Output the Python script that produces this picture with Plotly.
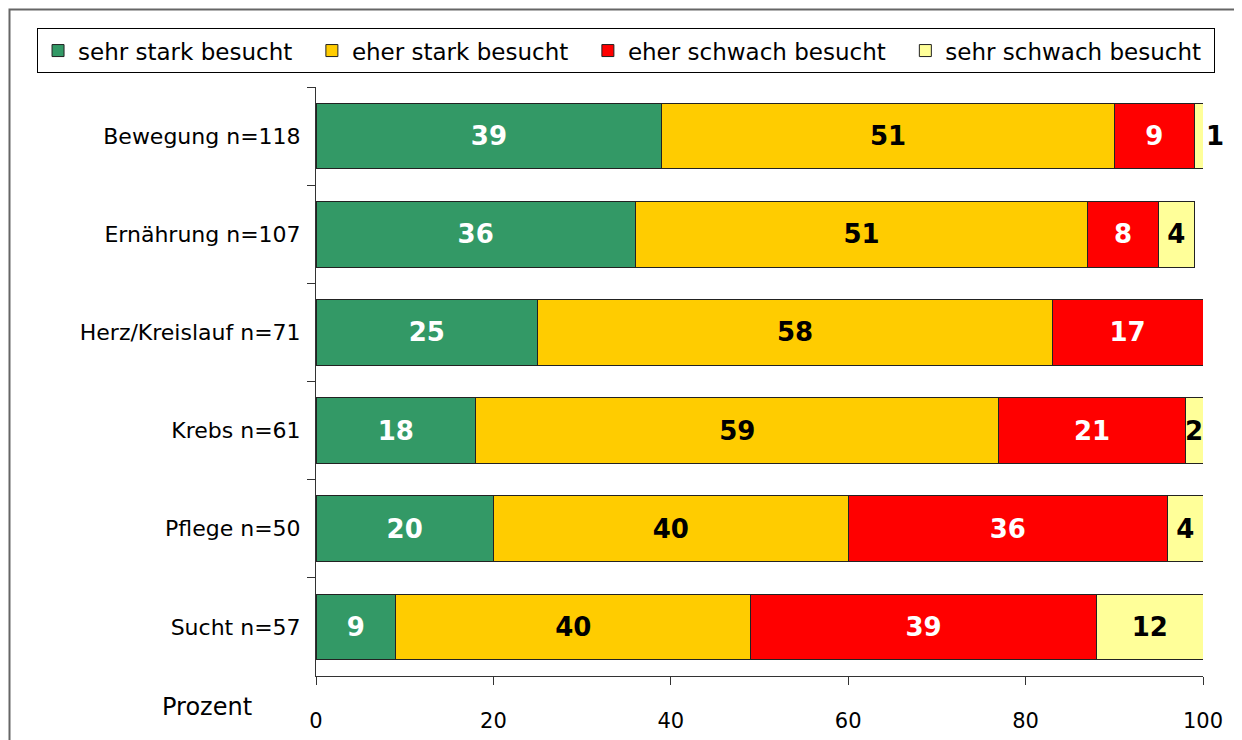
import plotly.graph_objects as go

categories = ["Bewegung n=118", "Ernährung n=107", "Herz/Kreislauf n=71",
              "Krebs n=61", "Pflege n=50", "Sucht n=57"]
series_names = ["sehr stark besucht", "eher stark besucht",
                "eher schwach besucht", "sehr schwach besucht"]
sehr_stark = [39, 36, 25, 18, 20, 9]
eher_stark = [51, 51, 58, 59, 40, 40]
eher_schwach = [9, 8, 17, 21, 36, 39]
sehr_schwach = [1, 4, 0, 2, 4, 12]
x_ticks = [0, 20, 40, 60, 80, 100]

colors = ["#339966", "#FFCC00", "#FF0000", "#FFFF99"]
text_colors = ["white", "black", "white", "black"]
legend_pad = ["\u00a0\u00a0", "\u00a0\u00a0", "\u00a0\u00a0", "\u00a0"]
FONT = "DejaVu Sans"

fig = go.Figure()
for name, vals, col, tcol, pad in zip(series_names,
                                      [sehr_stark, eher_stark, eher_schwach, sehr_schwach],
                                      colors, text_colors, legend_pad):
    texts = [str(v) if v > 0 else "" for v in vals]
    if name == "sehr schwach besucht":
        positions = ["outside" if v == 1 else "inside" for v in vals]
    else:
        positions = ["inside"] * len(vals)
    fig.add_trace(go.Bar(
        y=categories, x=vals, name=name + pad, orientation="h",
        marker=dict(color=col, line=dict(color="#222222", width=1)),
        text=texts, textposition=positions,
        insidetextanchor="middle",
        textfont=dict(family=FONT, size=26, color=tcol, weight="bold"),
        outsidetextfont=dict(family=FONT, size=26, color="black", weight="bold"),
        cliponaxis=False,
    ))

# page body has an 8px offset; margins compensate so the plot area sits at x 316-1203, y 87-676
fig.update_layout(
    barmode="stack",
    bargap=0.33,
    width=1242, height=740,
    margin=dict(l=308, r=47, t=79, b=72),
    paper_bgcolor="white", plot_bgcolor="white",
    font=dict(family=FONT, size=22, color="black"),
    uniformtext=dict(minsize=26, mode="show"),
    showlegend=True,
    legend=dict(orientation="h", x=-0.3145, xanchor="left", y=1.10, yanchor="top",
                bordercolor="black", borderwidth=1, font=dict(size=23, family=FONT),
                traceorder="normal"),
    xaxis=dict(range=[0, 100], tickvals=x_ticks, ticks="outside", ticklen=8,
               tickcolor="#333", showline=True, linecolor="#333", linewidth=1,
               showgrid=False, zeroline=False, ticklabelstandoff=18,
               tickfont=dict(size=21, family=FONT)),
    yaxis=dict(autorange="reversed", ticks="outside", tickson="boundaries",
               ticklen=8, tickcolor="#333", showline=True, linecolor="#333",
               linewidth=1, showgrid=False, ticklabelstandoff=10,
               tickfont=dict(size=22, family=FONT)),
    annotations=[dict(text="Prozent", xref="paper", yref="paper",
                      x=(207 - 316) / 887, y=(676 - 707) / 589,
                      xanchor="center", yanchor="middle", showarrow=False,
                      font=dict(size=24, family=FONT))],
    shapes=[dict(type="rect", xref="paper", yref="paper",
                 x0=(9.5 - 316) / 887, x1=1.2, y0=-0.5, y1=(676 - 9.5) / 589,
                 line=dict(color="#666666", width=2), layer="below")],
)

fig.write_html("out.html")
